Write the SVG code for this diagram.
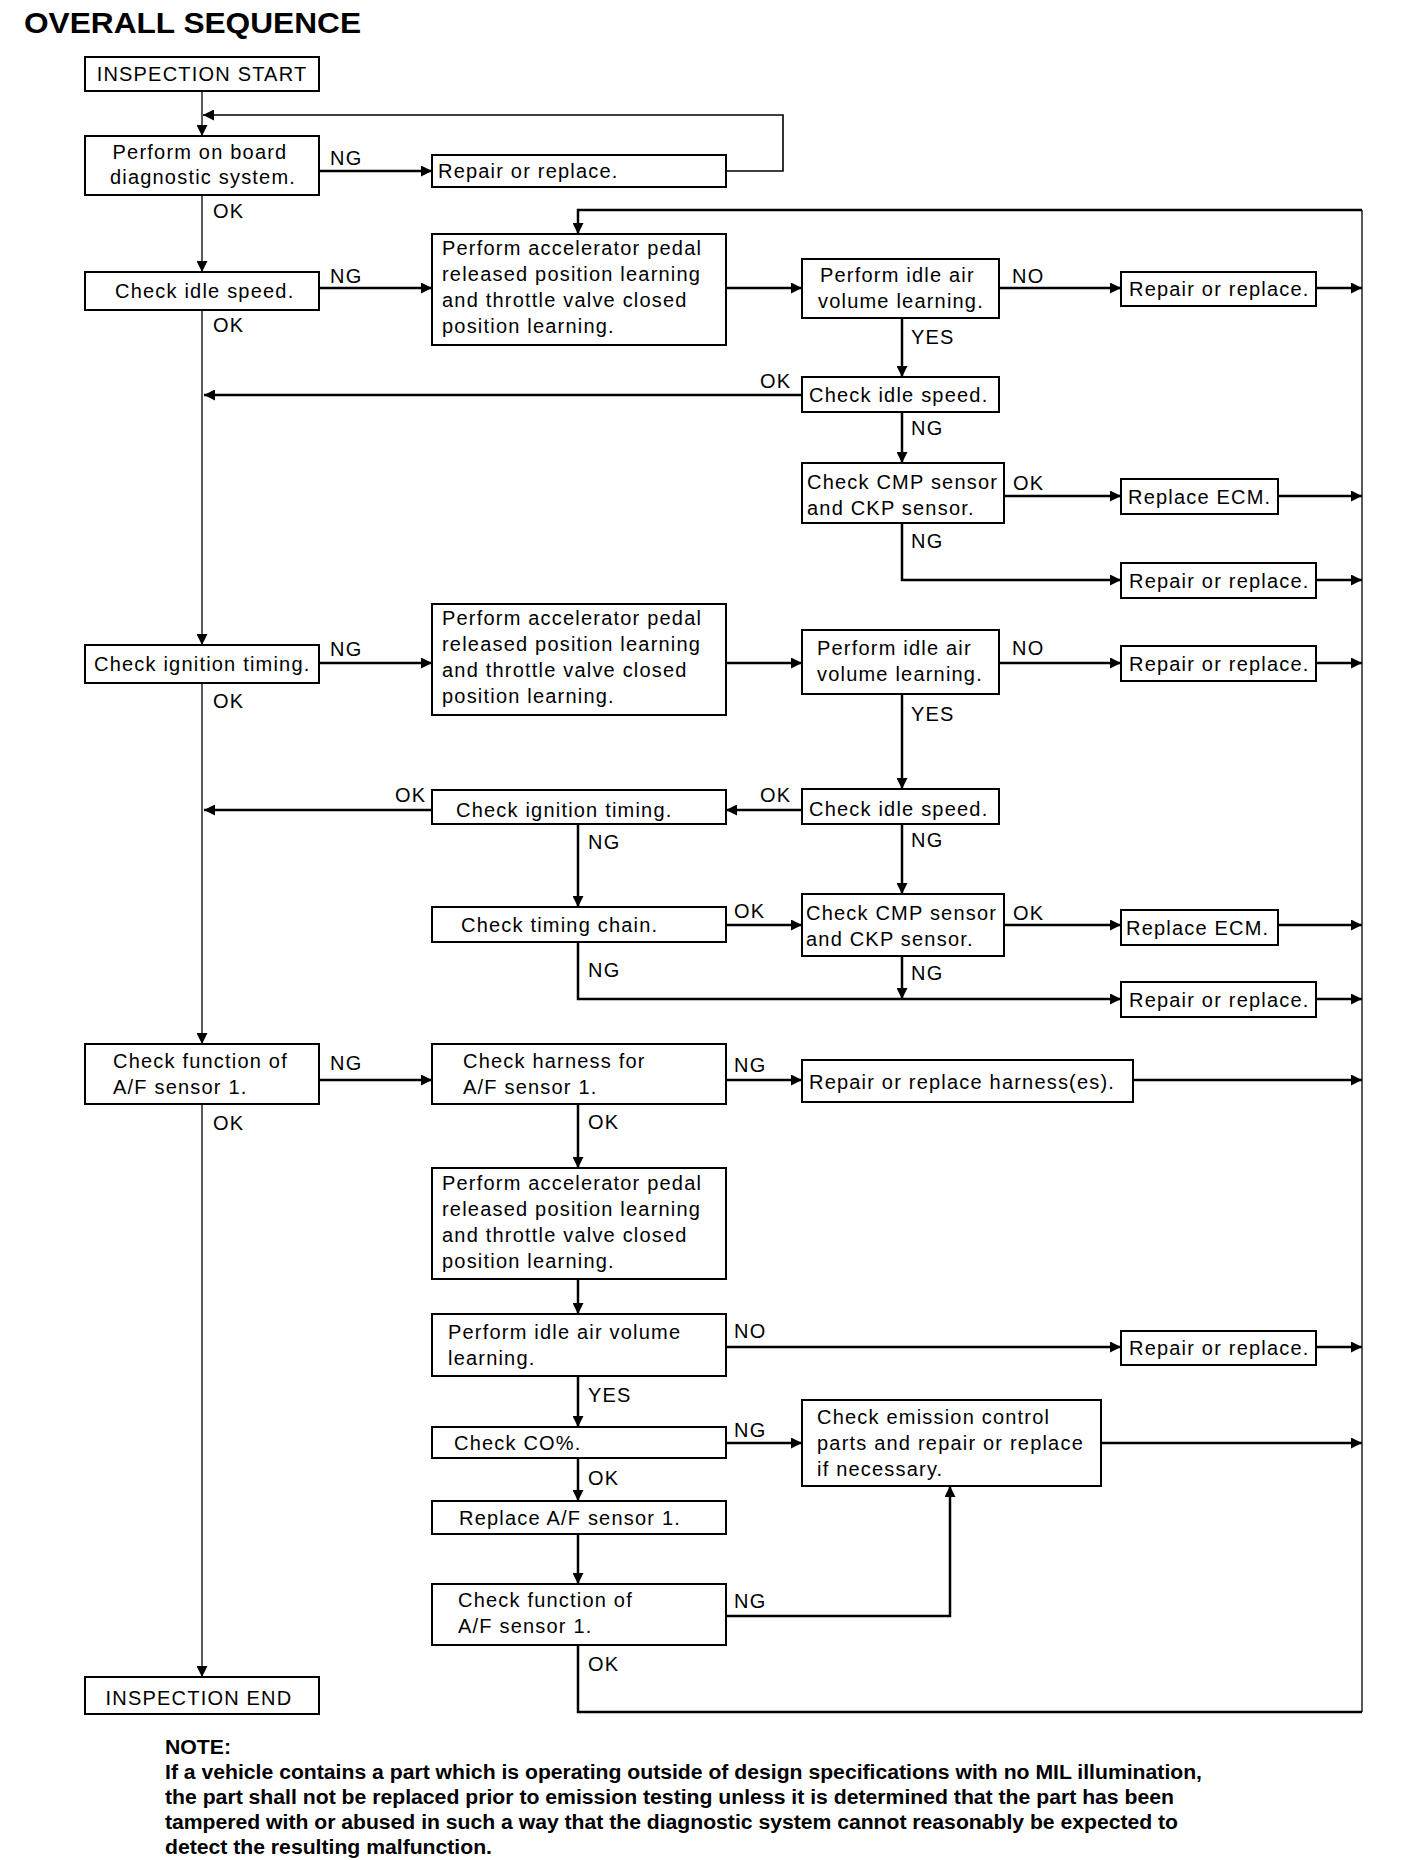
<svg xmlns="http://www.w3.org/2000/svg" width="1408" height="1860" viewBox="0 0 1408 1860">
<style>
.bx{fill:#fff;stroke:#000;stroke-width:2}
.t{font-family:"Liberation Sans",Arial,sans-serif;font-size:20px;letter-spacing:1.2px;fill:#000}
.m{text-anchor:middle}
.c{fill:none;stroke:#000;stroke-width:2.5}
.a{marker-end:url(#ah)}
.thin{stroke-width:1.3}
.nb{font-family:"Liberation Sans",Arial,sans-serif;font-size:20px;font-weight:bold;fill:#000}
</style>
<defs>
<marker id="ah" viewBox="0 0 10 10" refX="10" refY="5" markerWidth="11" markerHeight="11" markerUnits="userSpaceOnUse" orient="auto"><path d="M0,0 L10,5 L0,10 z" fill="#000"/></marker>
</defs>
<rect width="1408" height="1860" fill="#fff"/>
<text x="24" y="33" font-family="Liberation Sans,Arial,sans-serif" font-size="30" font-weight="bold" textLength="337" lengthAdjust="spacingAndGlyphs">OVERALL SEQUENCE</text>

<g id="connectors">
<path class="c thin a" d="M202,91 V136"/>
<path class="c thin a" d="M202,195 V272"/>
<path class="c thin a" d="M202,310 V645"/>
<path class="c thin a" d="M202,683 V1044"/>
<path class="c thin a" d="M202,1104 V1677"/>
<path class="c a" d="M726,171 H783 V115 H203" style="stroke-width:1.6"/>
<path class="c a" d="M319,171 H432"/>
<path class="c a" d="M319,288 H432"/>
<path class="c a" d="M1362,210 H578 V234"/>
<path class="c thin" d="M1362,210 V1712"/>
<path class="c" d="M578,1645 V1712 H1362"/>
<path class="c a" d="M726,288 H802"/>
<path class="c a" d="M999,288 H1121"/>
<path class="c a" d="M1316,288 H1362"/>
<path class="c a" d="M902,318 V377"/>
<path class="c a" d="M802,395 H204"/>
<path class="c a" d="M902,412 V463"/>
<path class="c a" d="M1004,496 H1121"/>
<path class="c a" d="M1278,496 H1362"/>
<path class="c a" d="M902,523 V580 H1121"/>
<path class="c a" d="M1316,580 H1362"/>
<path class="c a" d="M319,663 H432"/>
<path class="c a" d="M726,663 H802"/>
<path class="c a" d="M999,663 H1121"/>
<path class="c a" d="M1316,663 H1362"/>
<path class="c a" d="M902,694 V789"/>
<path class="c a" d="M802,810 H726"/>
<path class="c a" d="M432,810 H204"/>
<path class="c a" d="M902,824 V894"/>
<path class="c a" d="M578,824 V907"/>
<path class="c a" d="M726,925 H802"/>
<path class="c a" d="M1004,925 H1121"/>
<path class="c a" d="M1278,925 H1362"/>
<path class="c a" d="M578,942 V999 H1121"/>
<path class="c a" d="M902,956 V999"/>
<path class="c a" d="M1316,999 H1362"/>
<path class="c a" d="M319,1080 H432"/>
<path class="c a" d="M726,1080 H802"/>
<path class="c a" d="M1133,1080 H1362"/>
<path class="c a" d="M578,1104 V1168"/>
<path class="c a" d="M578,1279 V1314"/>
<path class="c a" d="M726,1347 H1121"/>
<path class="c a" d="M1316,1347 H1362"/>
<path class="c a" d="M578,1376 V1427"/>
<path class="c a" d="M726,1443 H802"/>
<path class="c a" d="M1101,1443 H1362"/>
<path class="c a" d="M578,1458 V1501"/>
<path class="c a" d="M578,1534 V1584"/>
<path class="c a" d="M726,1616 H950 V1486"/>
</g>

<g id="labels" class="t">
<text x="330" y="165">NG</text>
<text x="213" y="218">OK</text>
<text x="330" y="283">NG</text>
<text x="213" y="332">OK</text>
<text x="1012" y="283">NO</text>
<text x="911" y="344">YES</text>
<text x="760" y="388">OK</text>
<text x="911" y="435">NG</text>
<text x="1013" y="490">OK</text>
<text x="911" y="548">NG</text>
<text x="330" y="656">NG</text>
<text x="213" y="708">OK</text>
<text x="1012" y="655">NO</text>
<text x="911" y="721">YES</text>
<text x="760" y="802">OK</text>
<text x="395" y="802">OK</text>
<text x="911" y="847">NG</text>
<text x="588" y="849">NG</text>
<text x="734" y="918">OK</text>
<text x="1013" y="920">OK</text>
<text x="588" y="977">NG</text>
<text x="911" y="980">NG</text>
<text x="330" y="1070">NG</text>
<text x="734" y="1072">NG</text>
<text x="213" y="1130">OK</text>
<text x="588" y="1129">OK</text>
<text x="734" y="1338">NO</text>
<text x="588" y="1402">YES</text>
<text x="734" y="1437">NG</text>
<text x="588" y="1485">OK</text>
<text x="734" y="1608">NG</text>
<text x="588" y="1671">OK</text>
</g>

<g id="start"><rect class="bx" x="85" y="57" width="234" height="34"/><text class="t m" x="202" y="81">INSPECTION START</text></g>
<g id="obd"><rect class="bx" x="85" y="136" width="234" height="59"/><text class="t m" x="200" y="159">Perform on board</text><text class="t m" x="203" y="184">diagnostic system.</text></g>
<g id="repair0"><rect class="bx" x="432" y="155" width="294" height="32"/><text class="t" x="438" y="178">Repair or replace.</text></g>
<g id="idle1"><rect class="bx" x="85" y="272" width="234" height="38"/><text class="t" x="115" y="298">Check idle speed.</text></g>
<g id="accel1"><rect class="bx" x="432" y="234" width="294" height="111"/><text class="t" x="442" y="255">Perform accelerator pedal</text><text class="t" x="442" y="281">released position learning</text><text class="t" x="442" y="307">and throttle valve closed</text><text class="t" x="442" y="333">position learning.</text></g>
<g id="iav1"><rect class="bx" x="802" y="259" width="197" height="59"/><text class="t" x="820" y="282">Perform idle air</text><text class="t" x="818" y="308">volume learning.</text></g>
<g id="repair1"><rect class="bx" x="1121" y="272" width="195" height="34"/><text class="t" x="1129" y="296">Repair or replace.</text></g>
<g id="idle2"><rect class="bx" x="802" y="377" width="197" height="35"/><text class="t" x="809" y="402">Check idle speed.</text></g>
<g id="cmp1"><rect class="bx" x="802" y="463" width="202" height="60"/><text class="t" x="807" y="489">Check CMP sensor</text><text class="t" x="807" y="515">and CKP sensor.</text></g>
<g id="ecm1"><rect class="bx" x="1121" y="479" width="157" height="35"/><text class="t" x="1128" y="504">Replace ECM.</text></g>
<g id="repair2"><rect class="bx" x="1121" y="563" width="195" height="35"/><text class="t" x="1129" y="588">Repair or replace.</text></g>
<g id="ign1"><rect class="bx" x="85" y="645" width="234" height="38"/><text class="t" x="94" y="671">Check ignition timing.</text></g>
<g id="accel2"><rect class="bx" x="432" y="604" width="294" height="111"/><text class="t" x="442" y="625">Perform accelerator pedal</text><text class="t" x="442" y="651">released position learning</text><text class="t" x="442" y="677">and throttle valve closed</text><text class="t" x="442" y="703">position learning.</text></g>
<g id="iav2"><rect class="bx" x="802" y="630" width="197" height="64"/><text class="t" x="817" y="655">Perform idle air</text><text class="t" x="817" y="681">volume learning.</text></g>
<g id="repair3"><rect class="bx" x="1121" y="646" width="195" height="35"/><text class="t" x="1129" y="671">Repair or replace.</text></g>
<g id="idle3"><rect class="bx" x="802" y="789" width="197" height="35"/><text class="t" x="809" y="816">Check idle speed.</text></g>
<g id="ign2"><rect class="bx" x="432" y="790" width="294" height="34"/><text class="t" x="456" y="817">Check ignition timing.</text></g>
<g id="chain"><rect class="bx" x="432" y="907" width="294" height="35"/><text class="t" x="461" y="932">Check timing chain.</text></g>
<g id="cmp2"><rect class="bx" x="802" y="894" width="202" height="62"/><text class="t" x="806" y="920">Check CMP sensor</text><text class="t" x="806" y="946">and CKP sensor.</text></g>
<g id="ecm2"><rect class="bx" x="1121" y="910" width="157" height="35"/><text class="t" x="1126" y="935">Replace ECM.</text></g>
<g id="repair4"><rect class="bx" x="1121" y="982" width="195" height="35"/><text class="t" x="1129" y="1007">Repair or replace.</text></g>
<g id="af1"><rect class="bx" x="85" y="1044" width="234" height="60"/><text class="t" x="113" y="1068">Check function of</text><text class="t" x="113" y="1094">A/F sensor 1.</text></g>
<g id="harness"><rect class="bx" x="432" y="1044" width="294" height="60"/><text class="t" x="463" y="1068">Check harness for</text><text class="t" x="463" y="1094">A/F sensor 1.</text></g>
<g id="repairh"><rect class="bx" x="802" y="1060" width="331" height="42"/><text class="t" x="809" y="1089">Repair or replace harness(es).</text></g>
<g id="accel3"><rect class="bx" x="432" y="1168" width="294" height="111"/><text class="t" x="442" y="1190">Perform accelerator pedal</text><text class="t" x="442" y="1216">released position learning</text><text class="t" x="442" y="1242">and throttle valve closed</text><text class="t" x="442" y="1268">position learning.</text></g>
<g id="iav3"><rect class="bx" x="432" y="1314" width="294" height="62"/><text class="t" x="448" y="1339">Perform idle air volume</text><text class="t" x="448" y="1365">learning.</text></g>
<g id="repair5"><rect class="bx" x="1121" y="1331" width="195" height="34"/><text class="t" x="1129" y="1355">Repair or replace.</text></g>
<g id="co"><rect class="bx" x="432" y="1427" width="294" height="31"/><text class="t" x="454" y="1450">Check CO%.</text></g>
<g id="emission"><rect class="bx" x="802" y="1400" width="299" height="86"/><text class="t" x="817" y="1424">Check emission control</text><text class="t" x="817" y="1450">parts and repair or replace</text><text class="t" x="817" y="1476">if necessary.</text></g>
<g id="replaceaf"><rect class="bx" x="432" y="1501" width="294" height="33"/><text class="t" x="459" y="1525">Replace A/F sensor 1.</text></g>
<g id="af2"><rect class="bx" x="432" y="1584" width="294" height="61"/><text class="t" x="458" y="1607">Check function of</text><text class="t" x="458" y="1633">A/F sensor 1.</text></g>
<g id="end"><rect class="bx" x="85" y="1677" width="234" height="37"/><text class="t m" x="199" y="1705">INSPECTION END</text></g>

<g id="note">
<text class="nb" x="165" y="1754" textLength="66" lengthAdjust="spacingAndGlyphs">NOTE:</text>
<text class="nb" x="165" y="1779" textLength="1037" lengthAdjust="spacingAndGlyphs">If a vehicle contains a part which is operating outside of design specifications with no MIL illumination,</text>
<text class="nb" x="165" y="1804" textLength="1009" lengthAdjust="spacingAndGlyphs">the part shall not be replaced prior to emission testing unless it is determined that the part has been</text>
<text class="nb" x="165" y="1829" textLength="1013" lengthAdjust="spacingAndGlyphs">tampered with or abused in such a way that the diagnostic system cannot reasonably be expected to</text>
<text class="nb" x="165" y="1854" textLength="327" lengthAdjust="spacingAndGlyphs">detect the resulting malfunction.</text>
</g>
</svg>
